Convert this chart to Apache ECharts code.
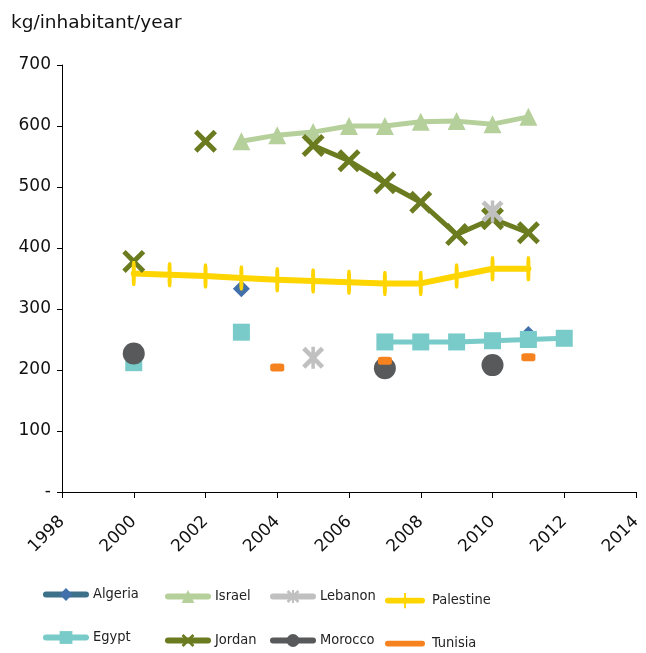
<!DOCTYPE html>
<html>
<head>
<meta charset="utf-8">
<script src="https://cdn.jsdelivr.net/npm/echarts@6/dist/echarts.min.js"></script>
<style>
  html, body { margin: 0; padding: 0; background: #fff; }
  #chart { width: 646px; height: 653px; }
</style>
</head>
<body>
<div id="chart"></div>
<script>
const years = [2000, 2001, 2002, 2003, 2004, 2005, 2006, 2007, 2008, 2009, 2010, 2011, 2012]
const algeria = [null, null, null, 333, null, null, null, null, null, null, null, 258, null]
const egypt = [212, null, null, 262, null, null, null, 246, 246, 246, 248, 250, 252]
const israel = [null, null, null, 575, 585, 590, 600, 600, 607, 608, 603, 615, null]
const jordan = [378, null, 575, null, null, 568, 543, 507, 475, 422, 448, 425, null]
const lebanon = [null, null, null, null, null, 220, null, null, null, null, 460, null, null]
const morocco = [227, null, null, null, null, null, null, 203, null, null, 208, null, null]
const palestine = [358, 356, 354, 351, 348, 346, 344, 342, 342, 354, 366, 366, null]
const tunisia = [null, null, null, null, 204, null, null, 215, null, null, null, 221, null]

const FONT = 'DejaVu Sans'
const xPath = 'path://M15,0 L50,35 L85,0 L100,15 L65,50 L100,85 L85,100 L50,65 L15,100 L0,85 L35,50 L0,15 Z'
const starPath = 'path://M15,0 L50,35 L85,0 L100,15 L65,50 L100,85 L85,100 L50,65 L15,100 L0,85 L35,50 L0,15 Z M42,0 L58,0 L58,100 L42,100 Z'
// legend icons for the two series whose marker is not square
const palestineIcon = 'path://M2,5 L38,5 A3,3 0 0 1 38,11 L2,11 A3,3 0 0 1 2,5 Z M19,0 L21,0 L21,16 L19,16 Z'
const tunisiaIcon = 'path://M2,5 L38,5 A3,3 0 0 1 38,11 L2,11 A3,3 0 0 1 2,5 Z M0,0 L0.1,0 M0,16 L0.1,16'

function pairs(arr) {
  return years.map((y, i) => [y, arr[i]])
}

function line(name, arr, color, symbol, symbolSize, width, lineColor) {
  return {
    name,
    type: 'line',
    data: pairs(arr),
    symbol,
    symbolSize,
    showAllSymbol: true,
    connectNulls: false,
    lineStyle: { color: lineColor || color, width, cap: 'round', join: 'round' },
    itemStyle: { color },
    emphasis: { disabled: true },
  }
}

const series = [
  line('Algeria', algeria, '#4170aa', 'diamond', 17, 5, '#3c7189'),
  line('Egypt', egypt, '#78cbc8', 'rect', 17, 5),
  line('Israel', israel, '#b5d09b', 'triangle', 18, 5),
  line('Jordan', jordan, '#6b7b1f', xPath, 23, 5),
  line('Lebanon', lebanon, '#c0c0c0', starPath, 22, 5),
  line('Morocco', morocco, '#58595b', 'circle', 22, 5),
  line('Palestine', palestine, '#ffd500', 'roundRect', [4, 25], 6),
  line('Tunisia', tunisia, '#f5821f', 'roundRect', [14, 8], 5),
]

function legendItem(name, left, centerY, icon) {
  const item = { name }
  if (icon) item.icon = icon
  return {
    data: [item],
    left,
    top: centerY - 8,
    padding: 0,
    itemWidth: 40,
    itemHeight: 16,
    lineStyle: { width: 6, cap: 'round' },
    textStyle: { fontFamily: 'DejaVu Sans Condensed', fontSize: 14.5, color: '#222', padding: [0, 0, 0, 2] },
  }
}

const myChart = echarts.init(document.getElementById('chart'))
const option = {
  backgroundColor: '#fff',
  animation: false,
  title: {
    text: 'kg/inhabitant/year',
    left: 6,
    top: 9,
    textStyle: { fontFamily: FONT, fontSize: 18.5, fontWeight: 'normal', color: '#111' },
  },
  legend: [
    legendItem('Algeria', 43, 595),
    legendItem('Egypt', 43, 638),
    legendItem('Israel', 165, 597),
    legendItem('Jordan', 165, 641),
    legendItem('Lebanon', 270, 597),
    legendItem('Morocco', 270, 641),
    legendItem('Palestine', 385, 601, palestineIcon),
    legendItem('Tunisia', 385, 644, tunisiaIcon),
  ],
  grid: { left: 62, right: 10, top: 65, bottom: 161 },
  xAxis: {
    type: 'value',
    min: 1998,
    max: 2014,
    interval: 2,
    splitLine: { show: false },
    axisLine: { lineStyle: { color: '#000', width: 1 } },
    axisTick: { show: true, length: 6, lineStyle: { color: '#000' } },
    axisLabel: {
      rotate: 45,
      fontFamily: FONT,
      fontSize: 17,
      color: '#111',
      margin: 27,
      formatter: v => String(v),
    },
  },
  yAxis: {
    type: 'value',
    min: 0,
    max: 700,
    interval: 100,
    splitLine: { show: false },
    axisLine: { show: true, lineStyle: { color: '#000', width: 1 } },
    axisTick: { show: true, length: 5, lineStyle: { color: '#000' } },
    axisLabel: {
      fontFamily: FONT,
      fontSize: 17,
      color: '#111',
      margin: 11,
      formatter: v => (v === 0 ? '-' : v),
    },
  },
  series,
}
myChart.setOption(option, true)
</script>
</body>
</html>
